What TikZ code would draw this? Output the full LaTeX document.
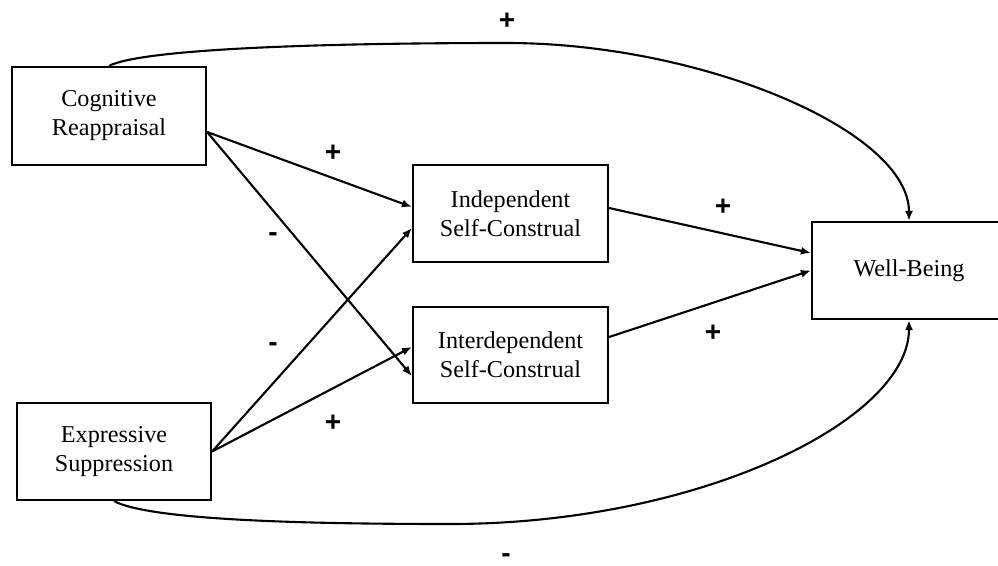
\documentclass[tikz,border=0pt]{standalone}
\usepackage{fontspec}
\setmainfont{Liberation Serif}
\newfontfamily\signfont{Liberation Sans}
\usetikzlibrary{arrows.meta}
\begin{document}
\begin{tikzpicture}[x=1pt,y=-1pt,
  box/.style={draw,line width=2.2pt,minimum width=194pt,minimum height=97pt,inner sep=0pt,align=center,font=\fontsize{24.2}{29}\selectfont},
  link/.style={line width=2.1pt,-{Latex[length=10pt,width=8pt]}},
  sign/.style={font=\signfont\bfseries\fontsize{28}{28}\selectfont,inner sep=0pt}]
\useasboundingbox (0,0) rectangle (998,565);
\node[box,minimum height=98pt] (cr) at (109,116) {Cognitive\\Reappraisal};
\node[box] (es) at (114,451.5) {Expressive\\Suppression};
\node[box,minimum width=195pt] (ind) at (510.5,213.5) {Independent\\Self-Construal};
\node[box,minimum width=195pt,minimum height=96pt] (inter) at (510.5,355) {Interdependent\\Self-Construal};
\node[box] (wb) at (909,270.5) {Well-Being};
\coordinate (topmid) at (507,43);
\coordinate (botmid) at (450,524);
\draw[link] ([yshift=-16pt]cr.east) -- ([yshift=6.5pt]ind.west);
\draw[link] ([yshift=-16pt]cr.east) -- ([yshift=-21pt]inter.west);
\draw[link] (es.east) -- ([yshift=-14.5pt]ind.west);
\draw[link] (es.east) -- ([yshift=8pt]inter.west);
\draw[link] ([yshift=5.5pt]ind.east) -- ([yshift=17.5pt]wb.west);
\draw[link] ([yshift=18pt]inter.east) -- (wb.west);
\draw[link] (cr.north) .. controls (140,50) and (300,43) .. (topmid) .. controls (700,43) and (909,130) .. (wb.north);
\draw[link] (es.south) .. controls (150,520) and (300,524) .. (botmid) .. controls (700,524) and (909,420) .. (wb.south);
\node[sign] (s1) at (507,21) {+};
\node[sign] (s2) at (333,153) {+};
\node[sign] (s3) at (273,237) {-};
\node[sign] (s4) at (273,347) {-};
\node[sign] (s5) at (333,423) {+};
\node[sign] (s6) at (723,207) {+};
\node[sign] (s7) at (713,333) {+};
\node[sign] (s8) at (506,558) {-};
\end{tikzpicture}
\end{document}
